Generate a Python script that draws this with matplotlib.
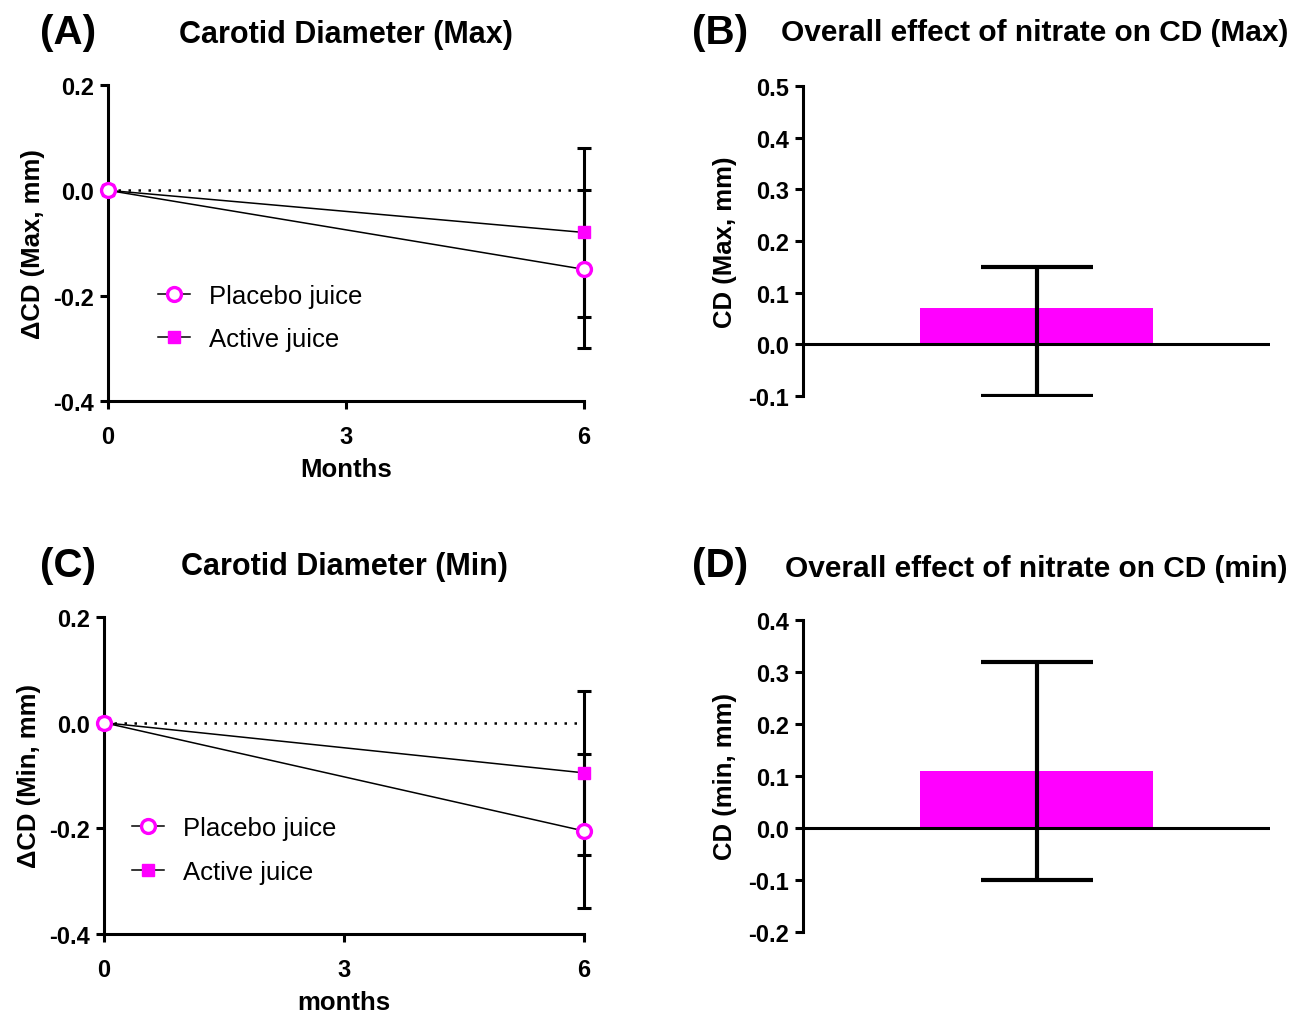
import numpy as np
import matplotlib
matplotlib.use("Agg")
import matplotlib.pyplot as plt

plt.rcParams["font.family"] = ["Liberation Sans", "DejaVu Sans"]

months = [0, 6]
month_ticks = [0, 3, 6]

# panel A - change in max diameter
placebo_max = [0.0, -0.15]
placebo_max_err = 0.15
active_max = [0.0, -0.08]
active_max_err = 0.16

# panel C - change in min diameter
placebo_min = [0.0, -0.205]
placebo_min_err = 0.145
active_min = [0.0, -0.095]
active_min_err = 0.155

# panels B and D - overall effect with CI
effect_max = 0.07
effect_max_ci = (-0.10, 0.15)
effect_min = 0.11
effect_min_ci = (-0.10, 0.32)

MAG = "#FF00FF"
W, H = 1290, 1012

fig = plt.figure(figsize=(W / 100, H / 100), dpi=100)


def rect(l, t, r, b):
    return [l / W, (H - b) / H, (r - l) / W, (b - t) / H]


def style_axes(ax):
    for s in ["top", "right"]:
        ax.spines[s].set_visible(False)
    for s in ["left", "bottom"]:
        ax.spines[s].set_linewidth(2.2)
    ax.tick_params(width=2.2, length=6, labelsize=17, direction="out")
    ax.tick_params(axis="y", pad=4)
    ax.tick_params(axis="x", pad=11)
    for lab in ax.get_xticklabels() + ax.get_yticklabels():
        lab.set_fontweight("bold")


def line_panel(ax, placebo, p_err, active, a_err, ylabel, xlabel, leg_x):
    ax.plot([0, 6], [0, 0], color="black", lw=1.8, linestyle=(0, (1, 3)), zorder=1)
    ax.plot(months, placebo, color="black", lw=1.1, zorder=2)
    ax.plot(months, active, color="black", lw=1.1, zorder=2)
    ax.errorbar(months[-1], placebo[-1], yerr=p_err, color="black", elinewidth=2.2,
                capsize=5, capthick=2.2, fmt="none", zorder=3, clip_on=False)
    ax.errorbar(months[-1], active[-1], yerr=a_err, color="black", elinewidth=2.2,
                capsize=5, capthick=2.2, fmt="none", zorder=3, clip_on=False)
    ax.plot(months, active, linestyle="none", marker="s", ms=9, mfc=MAG,
            mec=MAG, zorder=5, clip_on=False)
    ax.plot(months, placebo, linestyle="none", marker="o", ms=10, mfc="white",
            mec=MAG, mew=2.4, zorder=6, clip_on=False)
    h1, = ax.plot([], [], color="black", lw=1.1, marker="o", ms=10, mfc="white",
                  mec=MAG, mew=2.4)
    h2, = ax.plot([], [], color="black", lw=1.1, marker="s", ms=9, mfc=MAG, mec=MAG)
    ax.legend([h1, h2], ["Placebo juice", "Active juice"], loc="center left",
              bbox_to_anchor=(leg_x, 0.265), frameon=False, fontsize=18.5,
              handlelength=1.25, handletextpad=0.75, labelspacing=0.75, borderpad=0,
              borderaxespad=0)
    ax.set_xlim(0, 6)
    ax.set_ylim(-0.4, 0.2)
    ax.set_xticks(month_ticks)
    ax.set_yticks([-0.4, -0.2, 0.0, 0.2])
    ax.set_yticklabels(["-0.4", "-0.2", "0.0", "0.2"])
    ax.set_ylabel(ylabel, fontsize=18.5, fontweight="bold", labelpad=6)
    ax.set_xlabel(xlabel, fontsize=18.5, fontweight="bold", labelpad=7)
    style_axes(ax)


def bar_panel(ax, value, ci, ylim, yticks, ylabel):
    ax.bar(0, value, width=1.0, color=MAG, zorder=2)
    ax.axhline(0, color="black", lw=2.2, zorder=3)
    lo, hi = ci
    ax.errorbar(0, value, yerr=[[value - lo], [hi - value]], fmt="none",
                ecolor="black", elinewidth=3, capsize=40, capthick=3, zorder=4)
    ax.set_xlim(-1, 1)
    ax.set_ylim(*ylim)
    ax.set_yticks(yticks)
    ax.set_yticklabels([f"{t:.1f}" for t in yticks])
    ax.set_xticks([])
    ax.set_ylabel(ylabel, fontsize=18.5, fontweight="bold", labelpad=8)
    style_axes(ax)
    ax.spines["bottom"].set_visible(False)


ax_a = fig.add_axes(rect(108, 86, 584, 402))
line_panel(ax_a, placebo_max, placebo_max_err, active_max, active_max_err,
           "\u0394CD (Max, mm)", "Months", 0.105)

ax_c = fig.add_axes(rect(104, 618, 584, 935))
line_panel(ax_c, placebo_min, placebo_min_err, active_min, active_min_err,
           "\u0394CD (Min, mm)", "months", 0.058)

ax_b = fig.add_axes(rect(803, 87, 1270, 397))
bar_panel(ax_b, effect_max, effect_max_ci, (-0.1, 0.5),
          [-0.1, 0.0, 0.1, 0.2, 0.3, 0.4, 0.5], "CD (Max, mm)")

ax_d = fig.add_axes(rect(803, 621, 1270, 933))
bar_panel(ax_d, effect_min, effect_min_ci, (-0.2, 0.4),
          [-0.2, -0.1, 0.0, 0.1, 0.2, 0.3, 0.4], "CD (min, mm)")


def ftext(x, y, s, size, ha="center"):
    fig.text(x / W, 1 - y / H, s, fontsize=size, fontweight="bold", ha=ha, va="center")


ftext(40, 33, "(A)", 29, ha="left")
ftext(346, 35, "Carotid Diameter (Max)", 22)
ftext(692, 33, "(B)", 29, ha="left")
ftext(1035, 33, "Overall effect of nitrate on CD (Max)", 21.5)
ftext(40, 566, "(C)", 29, ha="left")
ftext(344, 567, "Carotid Diameter (Min)", 22)
ftext(692, 566, "(D)", 29, ha="left")
ftext(1036, 569, "Overall effect of nitrate on CD (min)", 21.5)

fig.savefig("out.png", dpi=100)
